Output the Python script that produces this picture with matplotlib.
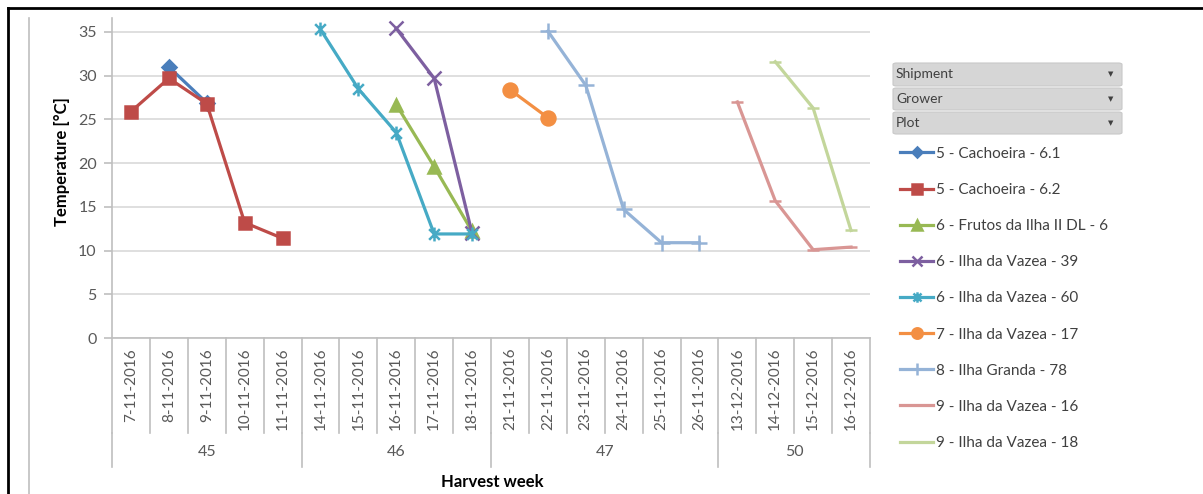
import numpy as np
import matplotlib
matplotlib.use("Agg")
import matplotlib.pyplot as plt
from matplotlib.path import Path
from matplotlib.lines import Line2D
from matplotlib.patches import FancyBboxPatch
from matplotlib.transforms import blended_transform_factory

plt.rcParams['font.family'] = ['Lato', 'DejaVu Sans']

dates = ["7-11-2016", "8-11-2016", "9-11-2016", "10-11-2016", "11-11-2016",
         "14-11-2016", "15-11-2016", "16-11-2016", "17-11-2016", "18-11-2016",
         "21-11-2016", "22-11-2016", "23-11-2016", "24-11-2016", "25-11-2016", "26-11-2016",
         "13-12-2016", "14-12-2016", "15-12-2016", "16-12-2016"]
weeks = ["45", "46", "47", "50"]
week_sizes = [5, 5, 6, 4]

n = np.nan
s_cach61 = [n, 31.0, 26.9, n, n, n, n, n, n, n, n, n, n, n, n, n, n, n, n, n]
s_cach62 = [25.9, 29.7, 26.8, 13.2, 11.4, n, n, n, n, n, n, n, n, n, n, n, n, n, n, n]
s_frutos = [n, n, n, n, n, n, n, 26.7, 19.6, 12.2, n, n, n, n, n, n, n, n, n, n]
s_vaz39 = [n, n, n, n, n, n, n, 35.4, 29.7, 12.0, n, n, n, n, n, n, n, n, n, n]
s_vaz60 = [n, n, n, n, n, 35.3, 28.5, 23.5, 11.9, 11.9, n, n, n, n, n, n, n, n, n, n]
s_vaz17 = [n, n, n, n, n, n, n, n, n, n, 28.4, 25.2, n, n, n, n, n, n, n, n]
s_gran78 = [n, n, n, n, n, n, n, n, n, n, n, 35.1, 28.9, 14.7, 10.9, 10.9, n, n, n, n]
s_vaz16 = [n, n, n, n, n, n, n, n, n, n, n, n, n, n, n, n, 27.0, 15.7, 10.1, 10.4]
s_vaz18 = [n, n, n, n, n, n, n, n, n, n, n, n, n, n, n, n, n, 31.6, 26.3, 12.3]

labels = ["5 - Cachoeira - 6.1", "5 - Cachoeira - 6.2", "6 - Frutos da Ilha II DL - 6",
          "6 - Ilha da Vazea - 39", "6 - Ilha da Vazea - 60", "7 - Ilha da Vazea - 17",
          "8 - Ilha Granda - 78", "9 - Ilha da Vazea - 16", "9 - Ilha da Vazea - 18"]
series = [s_cach61, s_cach62, s_frutos, s_vaz39, s_vaz60, s_vaz17, s_gran78, s_vaz16, s_vaz18]
colors = ["#4A7EBB", "#BE4B48", "#98B954", "#7D5FA0", "#46AAC5", "#F38F43",
          "#95B3D7", "#D99694", "#C3D69B"]

star = Path([(-1, -1), (1, 1), (-1, 1), (1, -1), (0, -1.3), (0, 1.3)],
            [Path.MOVETO, Path.LINETO, Path.MOVETO, Path.LINETO, Path.MOVETO, Path.LINETO])
markers = ["D", "s", "^", "x", star, "o", "+", "_", "_"]
msizes = [7, 9, 9, 10, 10, 10, 11, 9, 9]

W, H = 1203, 494
fig = plt.figure(figsize=(W / 100, H / 100), dpi=100)
ax = fig.add_axes([112 / W, (H - 338) / H, (870 - 112) / W, (338 - 18) / H])

x = np.arange(len(dates))
handles = []
for vals, c, m, ms, lab in zip(series, colors, markers, msizes, labels):
    ln, = ax.plot(x, vals, color=c, lw=2.3, marker=m, markersize=ms,
                  markeredgewidth=1.8, markerfacecolor=c, markeredgecolor=c, label=lab)
    handles.append(ln)

ax.set_xlim(-0.5, len(dates) - 0.5)
ax.set_ylim(0, 36.6)
ax.set_yticks(np.arange(0, 36, 5))
ax.yaxis.grid(True, color="#D9D9D9", lw=1.2)
ax.set_axisbelow(True)
for sp in ["top", "right"]:
    ax.spines[sp].set_visible(False)
ax.spines["left"].set_color("#BFBFBF")
ax.spines["bottom"].set_color("#BFBFBF")
ax.spines["left"].set_linewidth(1.2)
ax.spines["bottom"].set_linewidth(1.2)
ax.tick_params(axis="y", colors="#BFBFBF", labelcolor="#595959", labelsize=11.5, length=6, width=1.2, pad=5)
ax.set_xticks([])

tr = blended_transform_factory(ax.transData, ax.transAxes)
# category separators
for b in range(len(dates) + 1):
    ax.plot([b - 0.5, b - 0.5], [0, -0.297], color="#BFBFBF", lw=1.2, transform=tr, clip_on=False)
# group separators
edges = np.concatenate([[0], np.cumsum(week_sizes)])
for e in edges:
    ax.plot([e - 0.5, e - 0.5], [-0.297, -0.403], color="#BFBFBF", lw=1.2, transform=tr, clip_on=False)
for i, d in enumerate(dates):
    ax.text(i, -0.031, d, rotation=90, ha="center", va="top", fontsize=11,
            color="#595959", transform=tr)
for k, wk in enumerate(weeks):
    c = (edges[k] + edges[k + 1] - 1) / 2
    ax.text(c, -0.356, wk, ha="center", va="center", fontsize=11.5, color="#595959", transform=tr)

fig.text(62 / W, 1 - 162 / H, "Temperature [°C]", rotation=90, ha="center", va="center",
         fontsize=12, fontweight="bold", color="#000000")
fig.text(492 / W, 1 - 482 / H, "Harvest week", ha="center", va="center",
         fontsize=12, fontweight="bold", color="#000000")

# pivot field buttons
for lab, y0, y1 in [("Shipment", 63, 86), ("Grower", 88, 110), ("Plot", 112, 134)]:
    box = FancyBboxPatch((893 / W, 1 - y1 / H), (1122 - 893) / W, (y1 - y0) / H,
                         boxstyle="round,pad=0,rounding_size=0.003", transform=fig.transFigure,
                         facecolor="#D6D6D6", edgecolor="#C8C8C8", lw=0.8)
    fig.add_artist(box)
    yc = 1 - (y0 + y1) / 2 / H
    fig.text(896 / W, yc, lab, ha="left", va="center", fontsize=10, color="#404040")
    fig.text(1111 / W, yc, "▼", ha="center", va="center", fontsize=5, color="#404040",
             family=["DejaVu Sans"])

leg = fig.legend(handles=handles, labels=labels, loc="upper left",
                 bbox_to_anchor=(886 / W, 1 - 133 / H), frameon=False, fontsize=11,
                 labelspacing=1.45, handlelength=2.2, handletextpad=0.2, markerscale=0.75,
                 labelcolor="#404040")

# frame lines
fig.add_artist(Line2D([8 / W, 1], [1 - 8 / H, 1 - 8 / H], color="black", lw=2, transform=fig.transFigure))
fig.add_artist(Line2D([8 / W, 8 / W], [0, 1 - 8 / H], color="black", lw=2, transform=fig.transFigure))
fig.add_artist(Line2D([29 / W, 29 / W], [0, 1 - 18 / H], color="#BFBFBF", lw=1.2, transform=fig.transFigure))

fig.savefig("out.png", dpi=100)
